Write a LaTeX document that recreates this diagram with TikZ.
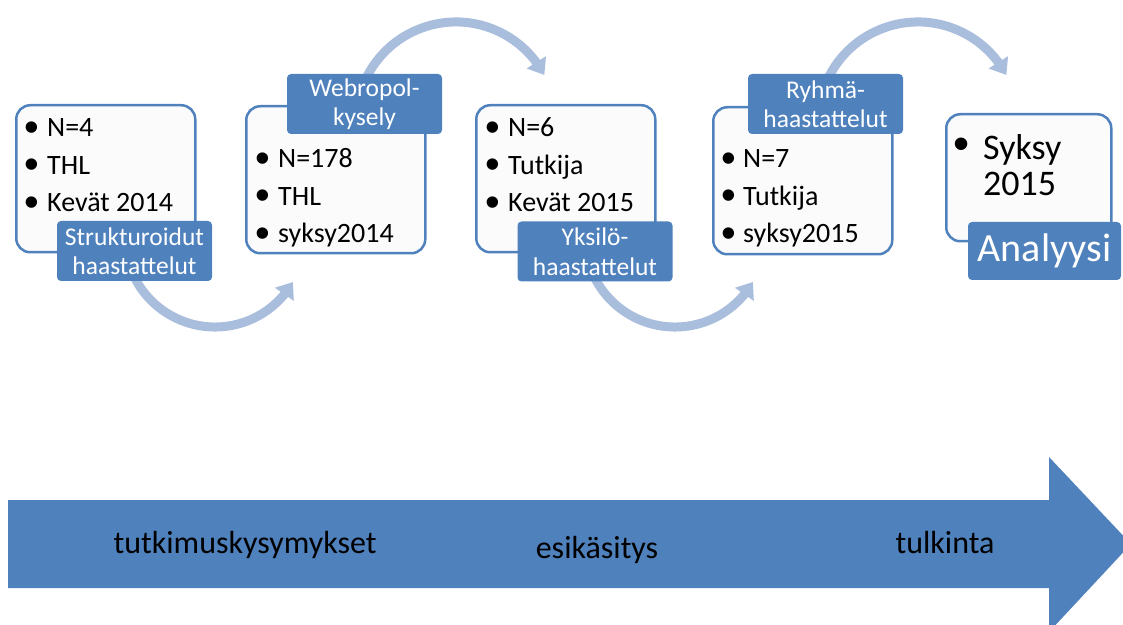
\documentclass[tikz,border=0pt]{standalone}
\usepackage{fontspec}
\setmainfont{Carlito}
\newfontfamily\bulletfont{Liberation Sans}
\usetikzlibrary{arrows.meta,bending}
\definecolor{accblue}{HTML}{4F81BD}
\definecolor{arcblue}{HTML}{A9BDDD}
\definecolor{boxfill}{HTML}{FBFBFC}
\newcommand{\bul}[1]{\makebox[#1][l]{\raisebox{-4.5pt}{\fontsize{42}{42}\bulletfont •}}}
\newcommand{\bigbul}[1]{\makebox[#1][l]{\raisebox{0pt}{\fontsize{46}{46}\bulletfont •}}}
\begin{document}
\begin{tikzpicture}[x=1pt,y=1pt,
  infobox/.style={draw=accblue, line width=2.5pt, fill=boxfill, rounded corners=14pt, minimum width=179pt, minimum height=147pt, anchor=north west, inner sep=0pt},
  tagbox/.style={fill=accblue, rounded corners=4pt, minimum width=155pt, minimum height=60pt, text=white, align=center, inner sep=0pt, font=\fontsize{25.5}{29.5}\selectfont},
  bullets/.style={anchor=base west, inner sep=0pt, font=\fontsize{28}{37.5}\selectfont},
  curvearrow/.style={draw=arcblue, line width=9pt, -{Triangle[width=22pt,length=15pt,flex]}},
  flowtext/.style={anchor=base, inner sep=0pt, font=\fontsize{32}{38}\selectfont}
]
\useasboundingbox (0,0) rectangle (1123,624);
\clip (0,0) rectangle (1123,624);

% big timeline arrow
\fill[accblue] (8,124) -- (1049,124) -- (1049,167) -- (1131,80) -- (1049,-8) -- (1049,36) -- (8,36) -- cycle;
\node[flowtext] (f1) at (245,71) {tutkimuskysymykset};
\node[flowtext] (f2) at (597,66) {esikäsitys};
\node[flowtext] (f3) at (945,71) {tulkinta};

% curved arrows
\coordinate (a1s) at (130.4,356.2);
\coordinate (a2s) at (365.4,544.3);
\coordinate (a3s) at (590.4,356.2);
\coordinate (a4s) at (827.4,544.3);
\draw[curvearrow] (a1s) arc[start angle=200, end angle=330, radius=90];
\draw[curvearrow] (a2s) arc[start angle=155, end angle=28, radius=100];
\draw[curvearrow] (a3s) arc[start angle=200, end angle=330, radius=90];
\draw[curvearrow] (a4s) arc[start angle=155, end angle=28, radius=100];

% boxes
\node[infobox] (b1) at (15,520) {};
\node[infobox] (b2) at (245,519) {};
\node[infobox] (b3) at (475,520) {};
\node[infobox] (b4) at (712,518) {};
\node[infobox, minimum width=165pt, minimum height=127pt] (b5) at (945,511) {};

% bullet texts
\node[bullets] (l1) at (24,487.3) {\begin{tabular}[t]{@{}l@{}}\bul{23pt}N=4\\\bul{23pt}THL\\\bul{23pt}Kevät 2014\end{tabular}};
\node[bullets] (l2) at (255,456) {\begin{tabular}[t]{@{}l@{}}\bul{23pt}N=178\\\bul{23pt}THL\\\bul{23pt}syksy2014\end{tabular}};
\node[bullets] (l3) at (485,487.3) {\begin{tabular}[t]{@{}l@{}}\bul{23pt}N=6\\\bul{23pt}Tutkija\\\bul{23pt}Kevät 2015\end{tabular}};
\node[bullets] (l4) at (721,456) {\begin{tabular}[t]{@{}l@{}}\bul{22pt}N=7\\\bul{22pt}Tutkija\\\bul{22pt}syksy2015\end{tabular}};
\node[bullets, font=\fontsize{36}{36}\selectfont] (l5) at (953,464.7) {\begin{tabular}[t]{@{}l@{}l@{}}\bigbul{30pt}&Syksy\\&2015\end{tabular}};

% labels
\node[tagbox] (t1) at (134.5,373) {Strukturoidut\\haastattelut};
\node[tagbox] (t2) at (364.5,520) {Webropol-\\kysely};
\node[tagbox] (t3) at (595,372.5) {Yksilö-\\haastattelut};
\node[tagbox] (t4) at (825.5,520) {Ryhmä-\\haastattelut};
\node[tagbox, minimum width=153pt, minimum height=58pt, font=\fontsize{40}{48}\selectfont] (t5) at (1044.5,373) {Analyysi};
\end{tikzpicture}
\end{document}
